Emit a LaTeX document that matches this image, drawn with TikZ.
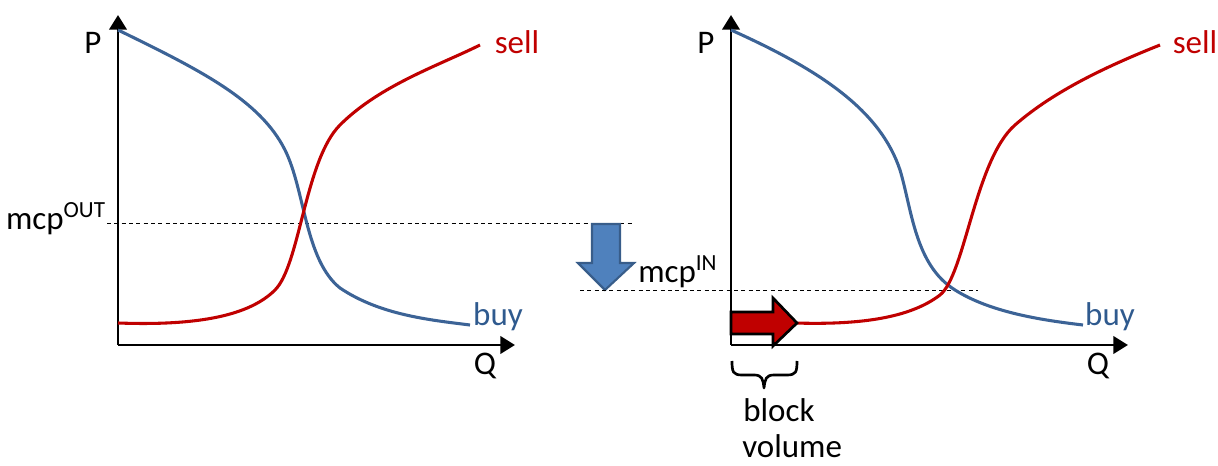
\documentclass[tikz,border=0pt]{standalone}
\usepackage{fontspec}
\setmainfont{Carlito}
\usetikzlibrary{arrows.meta}
\definecolor{buyblue}{HTML}{3C6396}
\definecolor{buytext}{HTML}{2F5A8E}
\definecolor{sellred}{HTML}{C00000}
\definecolor{arrowfill}{HTML}{4F81BD}
\definecolor{arrowedge}{HTML}{385D8A}
\begin{document}
\begin{tikzpicture}[x=0.75pt,y=-0.75pt,
  axis/.style={line width=2.2pt,-{Triangle[width=13pt,length=11pt]}},
  buycurve/.style={buyblue,line width=2.3pt},
  sellcurve/.style={sellred,line width=2.3pt},
  guide/.style={dashed,line width=0.6pt,dash pattern=on 3pt off 2.5pt},
  lbl/.style={inner sep=0pt,font=\fontsize{24.75}{30}\selectfont},
  brace/.style={line width=2pt,line join=round}]
\useasboundingbox (0,0) rectangle (1218,466);

% ---------- left panel ----------
\coordinate (LO) at (118,345);
\coordinate (LY) at (118,15);
\coordinate (LX) at (515,345);
\draw[axis] (LO) -- (LY);
\draw[axis] (LO) -- (LX);
\node[lbl] (LP) at (93,43) {P};
\node[lbl] (LQ) at (485,366) {Q};

\coordinate (Lmcp1) at (107,223);
\coordinate (Lmcp2) at (632,223);
\draw[guide] (Lmcp1) -- (Lmcp2);
\node[lbl,anchor=east] (mcpout) at (106,219) {mcp\textsuperscript{OUT}};

\draw[buycurve] (118,30) .. controls (200,70) and (260,100) .. (285,150)
  .. controls (305,190) and (305,260) .. (340,288)
  .. controls (380,315) and (430,320) .. (470,325);
\draw[sellcurve] (118,323) .. controls (200,326) and (250,315) .. (275,290)
  .. controls (300,265) and (305,160) .. (340,125)
  .. controls (380,85) and (440,65) .. (480,45);
\node[lbl,text=sellred] (Lsell) at (517,42) {sell};
\node[lbl,text=buytext] (Lbuy) at (498,317) {buy};

% ---------- transition arrow ----------
\draw[fill=arrowfill,draw=arrowedge,line width=1.6pt,line join=miter]
  (592,224) -- (620,224) -- (620,263) -- (634,263) -- (605,290) -- (578,263) -- (592,263) -- cycle;

% ---------- right panel ----------
\coordinate (RO) at (731,345);
\coordinate (RY) at (731,15);
\coordinate (RX) at (1128,345);
\draw[axis] (RO) -- (RY);
\draw[axis] (RO) -- (RX);
\node[lbl] (RP) at (706,43) {P};
\node[lbl] (RQ) at (1098,366) {Q};

\coordinate (Rmcp1) at (580,290);
\coordinate (Rmcp2) at (978,290);
\draw[guide] (Rmcp1) -- (Rmcp2);
\node[lbl,anchor=west] (mcpin) at (638,272) {mcp\textsuperscript{IN}};

\draw[buycurve] (731,30) .. controls (820,70) and (880,110) .. (900,170)
  .. controls (912,210) and (915,265) .. (955,290)
  .. controls (990,312) and (1040,320) .. (1083,325);
\draw[sellcurve] (795,323) .. controls (860,325) and (910,318) .. (940,295)
  .. controls (965,275) and (975,160) .. (1015,125)
  .. controls (1055,90) and (1110,65) .. (1160,45);
\node[lbl,text=sellred] (Rsell) at (1195,42) {sell};
\node[lbl,text=buytext] (Rbuy) at (1110,317) {buy};

% block arrow
\draw[fill=sellred,draw=black,line width=2pt,line join=miter]
  (731,312) -- (773,312) -- (773,298) -- (797,323) -- (773,346) -- (773,334) -- (731,334) -- cycle;

% brace
\draw[brace] (732,361) .. controls (732,372) and (733,375) .. (742,375) -- (754,375)
  .. controls (762,375) and (763,379) .. (764,388)
  .. controls (765,379) and (766,375) .. (774,375) -- (787,375)
  .. controls (796,375) and (797,372) .. (797,361);
\node[lbl,anchor=base west] (block) at (743,422) {block};
\node[lbl,anchor=base west] (volume) at (742,458) {volume};
\end{tikzpicture}
\end{document}
